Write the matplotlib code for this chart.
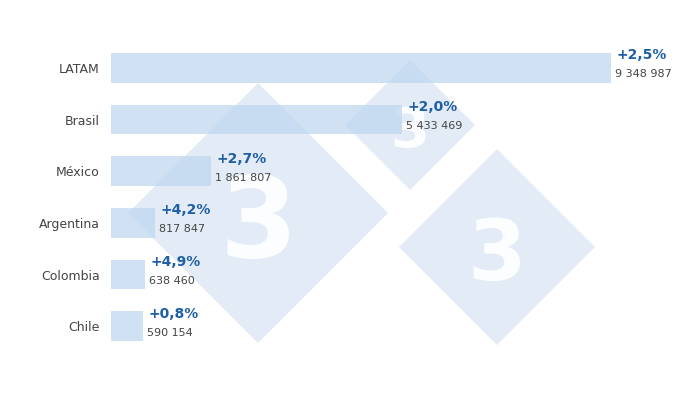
import matplotlib
matplotlib.use("Agg")
import matplotlib.pyplot as plt
from matplotlib.patches import Polygon

categories = ["LATAM", "Brasil", "México", "Argentina", "Colombia", "Chile"]
values = [9348987, 5433469, 1861807, 817847, 638460, 590154]
changes = ["+2,5%", "+2,0%", "+2,7%", "+4,2%", "+4,9%", "+0,8%"]

fig = plt.figure(figsize=(7, 4), dpi=100)
H = 400
for cx, cy, r in [(258, 213, 130), (410, 125, 65), (497, 247, 98)]:
    y = H - cy
    fig.patches.append(Polygon([(cx, y + r), (cx + r, y), (cx, y - r), (cx - r, y)],
                               closed=True, transform=None, facecolor="#c9daee",
                               alpha=0.5, edgecolor="none", zorder=0))
    fig.text(cx / 700, (y - r * 0.1) / 400, "3", ha="center", va="center", color="white",
             fontsize=r * 0.62, fontweight="bold", alpha=0.9, zorder=0.5)

ax = fig.add_axes([111 / 700, 1 - 352 / 400, 500 / 700, 310 / 400])
ax.set_zorder(2)
ax.patch.set_alpha(0)
ypos = list(range(len(categories)))
ax.barh(ypos, values, height=0.58, color="#bcd5ef", alpha=0.7, zorder=2)
ax.set_xlim(0, values[0])
ax.set_ylim(len(categories) - 0.5, -0.5)
ax.set_yticks(ypos)
ax.set_yticklabels(categories, fontsize=9, color="#444444")
ax.tick_params(axis="y", length=0, pad=8)
ax.set_xticks([])
for s in ax.spines.values():
    s.set_visible(False)
for i, (v, c) in enumerate(zip(values, changes)):
    ax.annotate(c, (v, i), xytext=(4, 4), textcoords="offset points", ha="left",
                va="bottom", fontsize=10, fontweight="bold", color="#1f5fa6",
                annotation_clip=False, zorder=5)
    ax.annotate(f"{v:,}".replace(",", " "), (v, i), xytext=(3, -1),
                textcoords="offset points", ha="left", va="top", fontsize=8,
                color="#444444", annotation_clip=False, zorder=5)
fig.savefig("out.png", dpi=100)
